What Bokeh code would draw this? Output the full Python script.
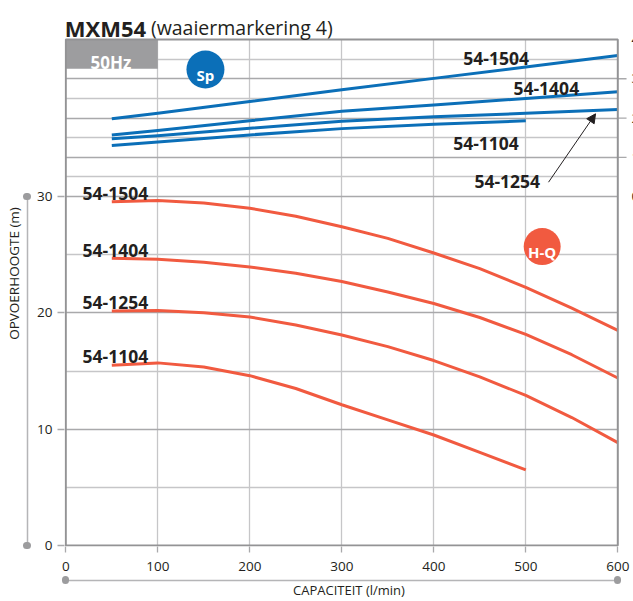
from bokeh.plotting import figure
from bokeh.models import (Range1d, LinearAxis, FixedTicker, Grid, Label, Arrow,
                          NormalHead, CustomJSTickFormatter)
from bokeh.embed import file_html
from bokeh.resources import INLINE

FONT = "Open Sans"
TXT = "#231f20"
RED = "#f15a40"
BLUE = "#0b6fb8"
GRID_LIGHT = "#c6c6c8"
GRID_DARK = "#a9a9ab"
FRAME = "#939395"
AXLINE = "#b5b5b7"
DOT = "#9c9c9e"
BOX_GREY = "#9d9d9f"

# ---------------- data ----------------
flow = [50, 100, 150, 200, 250, 300, 350, 400, 450, 500, 550, 600]
flow_1104 = [50, 100, 150, 200, 250, 300, 350, 400, 450, 500]
head_1504 = [29.55, 29.65, 29.45, 29.0, 28.3, 27.4, 26.4, 25.15, 23.8, 22.2, 20.4, 18.5]
head_1404 = [24.7, 24.6, 24.35, 23.95, 23.4, 22.7, 21.8, 20.8, 19.6, 18.15, 16.4, 14.4]
head_1254 = [20.15, 20.2, 20.0, 19.65, 18.95, 18.1, 17.1, 15.9, 14.5, 12.9, 11.0, 8.85]
head_1104 = [15.5, 15.7, 15.35, 14.6, 13.5, 12.1, 10.8, 9.5, 8.0, 6.5]

flow_p = [50, 100, 200, 300, 400, 500, 600]
flow_p_1104 = [50, 100, 200, 300, 400, 500]
power_1504 = [1.98, 2.12, 2.42, 2.72, 3.01, 3.30, 3.59]
power_1404 = [1.57, 1.68, 1.93, 2.17, 2.33, 2.50, 2.67]
power_1254 = [1.47, 1.55, 1.74, 1.92, 2.03, 2.12, 2.22]
power_1104 = [1.30, 1.39, 1.57, 1.73, 1.84, 1.93]

x_ticks = [0, 100, 200, 300, 400, 500, 600]
h_ticks = [0, 10, 20, 30]
p_ticks = [0, 1, 2, 3, 4]
p_tick_marks = [1, 2, 3]
model_names = ["54-1504", "54-1404", "54-1254", "54-1104"]

# label anchors (data units)
hq_label_x = 18.2
hq_label_y = [30.24, 25.36, 20.92, 16.25]
sp_label_x = [432.0, 486.6, 444.2, 421.1]
sp_label_y = [3.508, 2.744, 0.391, 1.343]

# chart box: Q 0..600, H 0..H_TOP ; power axis: p 0..4 sits on H 30..H_TOP
Q_MAX = 600
H_TOP = 43.5
H_PER_P = (H_TOP - 30) / 4.0
X_START, X_END = -1.413, 617.07
Y_START, Y_END = -0.086, 46.854
P_START = (Y_START - 30) / H_PER_P
P_END = (Y_END - 30) / H_PER_P

p = figure(width=633, height=601, x_range=Range1d(X_START, X_END),
           y_range=Range1d(Y_START, Y_END),
           x_axis_type=None, y_axis_type=None, output_backend="svg",
           toolbar_location=None,
           min_border_left=64, min_border_right=0, min_border_top=0, min_border_bottom=55,
           background_fill_color="white", border_fill_color="white",
           outline_line_color=None)
p.extra_y_ranges = {"power": Range1d(P_START, P_END)}

# ---------------- grids (limited to the chart box) ----------------
p.add_layout(Grid(dimension=0, ticker=FixedTicker(ticks=[100, 200, 300, 400, 500]),
                  cross_bounds=(0, H_TOP), grid_line_color=GRID_LIGHT, grid_line_width=1.3))
p.add_layout(Grid(dimension=1, ticker=FixedTicker(ticks=[5, 15, 25]), cross_bounds=(0, Q_MAX),
                  grid_line_color=GRID_LIGHT, grid_line_width=1.3))
p.add_layout(Grid(dimension=1, ticker=FixedTicker(ticks=[10, 20, 30]), cross_bounds=(0, Q_MAX),
                  grid_line_color=GRID_DARK, grid_line_width=1.3))
p.add_layout(Grid(dimension=1, ticker=FixedTicker(ticks=[0.5, 1.5, 2.5, 3.5]),
                  y_range_name="power", cross_bounds=(0, Q_MAX),
                  grid_line_color=GRID_LIGHT, grid_line_width=1.3))
p.add_layout(Grid(dimension=1, ticker=FixedTicker(ticks=[1, 2, 3]), y_range_name="power",
                  cross_bounds=(0, Q_MAX), grid_line_color=GRID_DARK, grid_line_width=1.3))

empty = CustomJSTickFormatter(code="return ''")


def spacer(tick, size):
    return LinearAxis(ticker=FixedTicker(ticks=[tick]), formatter=empty, axis_line_color=None,
                      major_tick_in=0, major_tick_out=size, major_tick_line_color=None,
                      minor_tick_line_color=None, major_label_standoff=0,
                      major_label_text_font_size="1px", major_label_text_color=None)


# ---------------- axes ----------------
yax = LinearAxis(ticker=FixedTicker(ticks=h_ticks), axis_line_color=None,
                 major_tick_in=0, major_tick_out=7, major_tick_line_color=GRID_DARK,
                 major_tick_line_width=1.3, minor_tick_line_color=None,
                 major_label_standoff=5, major_label_text_font=FONT,
                 major_label_text_font_size="13.5px", major_label_text_color=TXT)
p.add_layout(yax, "left")
p.add_layout(spacer(15, 7), "left")
yax2 = LinearAxis(ticker=FixedTicker(ticks=[0, 30]), bounds=(0, 30), formatter=empty,
                  axis_line_color=AXLINE, axis_line_width=1.5,
                  major_tick_in=0, major_tick_out=1, major_tick_line_width=7,
                  major_tick_line_cap="round", major_tick_line_color=DOT,
                  minor_tick_line_color=None, major_label_standoff=0,
                  major_label_text_font_size="1px", major_label_text_color=None,
                  axis_label="OPVOERHOOGTE (m)", axis_label_standoff=4,
                  axis_label_text_font=FONT, axis_label_text_font_size="13.5px",
                  axis_label_text_font_style="normal", axis_label_text_color=TXT)
p.add_layout(yax2, "left")

xax = LinearAxis(ticker=FixedTicker(ticks=x_ticks), axis_line_color=None,
                 major_tick_in=0, major_tick_out=6, major_tick_line_color=GRID_DARK,
                 major_tick_line_width=1.3, minor_tick_line_color=None,
                 major_label_standoff=9, major_label_text_font=FONT,
                 major_label_text_font_size="13.5px", major_label_text_color=TXT)
p.add_layout(xax, "below")
p.add_layout(spacer(300, 7), "below")
xax2 = LinearAxis(ticker=FixedTicker(ticks=[0, 600]), bounds=(0, 600), formatter=empty,
                  axis_line_color=AXLINE, axis_line_width=1.5,
                  major_tick_in=1, major_tick_out=0, major_tick_line_width=7,
                  major_tick_line_cap="round", major_tick_line_color=DOT,
                  minor_tick_line_color=None, major_label_standoff=0,
                  major_label_text_font_size="1px", major_label_text_color=None,
                  axis_label="CAPACITEIT (l/min)", axis_label_standoff=0,
                  axis_label_text_font=FONT, axis_label_text_font_size="13px",
                  axis_label_text_font_style="normal", axis_label_text_color=TXT)
p.add_layout(xax2, "below")

# ---------------- right power scale (ticks + labels, cut by the page edge) ----------------
p.segment(x0=[Q_MAX] * len(p_tick_marks), x1=[609.5] * len(p_tick_marks),
          y0=p_tick_marks, y1=p_tick_marks, y_range_name="power",
          line_color=GRID_DARK, line_width=1.3)
for v in p_ticks:
    p.add_layout(Label(x=614.9, y=v, y_range_name="power", text=str(v), text_font=FONT,
                       text_font_size="13.5px", text_color=TXT, text_baseline="middle"))

# ---------------- 50Hz box ----------------
p.quad(left=[0], right=[100], top=[4.0], bottom=[3.254], y_range_name="power",
       fill_color=BOX_GREY, line_color=None)
p.add_layout(Label(x=49.1, y=3.422, y_range_name="power", text="50Hz", text_font=FONT,
                   text_font_style="bold", text_font_size="17px", text_color="white",
                   text_align="center", text_baseline="alphabetic"))

# ---------------- curves ----------------
hq_series = [(flow, head_1504), (flow, head_1404), (flow, head_1254), (flow_1104, head_1104)]
for xs, ys in hq_series:
    p.line(xs, ys, line_color=RED, line_width=3, line_join="round")

sp_series = [(flow_p, power_1504), (flow_p, power_1404), (flow_p, power_1254),
             (flow_p_1104, power_1104)]
for xs, ys in sp_series:
    p.line(xs, ys, line_color=BLUE, line_width=3, line_join="round", y_range_name="power")

# chart box border
p.quad(left=[0], right=[Q_MAX], bottom=[0], top=[H_TOP], fill_color=None,
       line_color=FRAME, line_width=2)

# ---------------- curve labels ----------------
for name, yy in zip(model_names, hq_label_y):
    p.add_layout(Label(x=hq_label_x, y=yy, text=name, text_font=FONT, text_font_style="bold",
                       text_font_size="17.5px", text_color=TXT, text_baseline="alphabetic"))
for name, xx, yy in zip(model_names, sp_label_x, sp_label_y):
    p.add_layout(Label(x=xx, y=yy, y_range_name="power", text=name, text_font=FONT,
                       text_font_style="bold", text_font_size="17.5px", text_color=TXT,
                       text_baseline="alphabetic"))

p.add_layout(Arrow(x_start=524.7, y_start=0.365, x_end=575.8, y_end=2.107, y_range_name="power",
                   line_color=TXT, line_width=1,
                   end=NormalHead(size=9, fill_color=TXT, line_color=TXT, line_width=1)))

# ---------------- badges ----------------
p.scatter([151.8], [3.236], size=38, marker="circle", fill_color=BLUE, line_color=None,
          y_range_name="power")
p.add_layout(Label(x=151.8, y=3.10, y_range_name="power", text="Sp", text_font=FONT,
                   text_font_style="bold", text_font_size="15px", text_color="white",
                   text_align="center", text_baseline="alphabetic"))
p.scatter([517.8], [25.70], size=37, marker="circle", fill_color=RED, line_color=None)
p.add_layout(Label(x=517.8, y=25.22, text="H-Q", text_font=FONT, text_font_style="bold",
                   text_font_size="15px", text_color="white", text_align="center",
                   text_baseline="alphabetic"))

# ---------------- title ----------------
p.add_layout(Label(x=-1.1, y=44.51, text="MXM54", text_font=FONT, text_font_style="bold",
                   text_font_size="22px", text_color=TXT, text_baseline="alphabetic"))
p.add_layout(Label(x=92.5, y=44.51, text="(waaiermarkering 4)", text_font=FONT,
                   text_font_style="normal", text_font_size="19.5px", text_color=TXT,
                   text_baseline="alphabetic"))

open("out.html", "w").write(file_html(p, INLINE))
